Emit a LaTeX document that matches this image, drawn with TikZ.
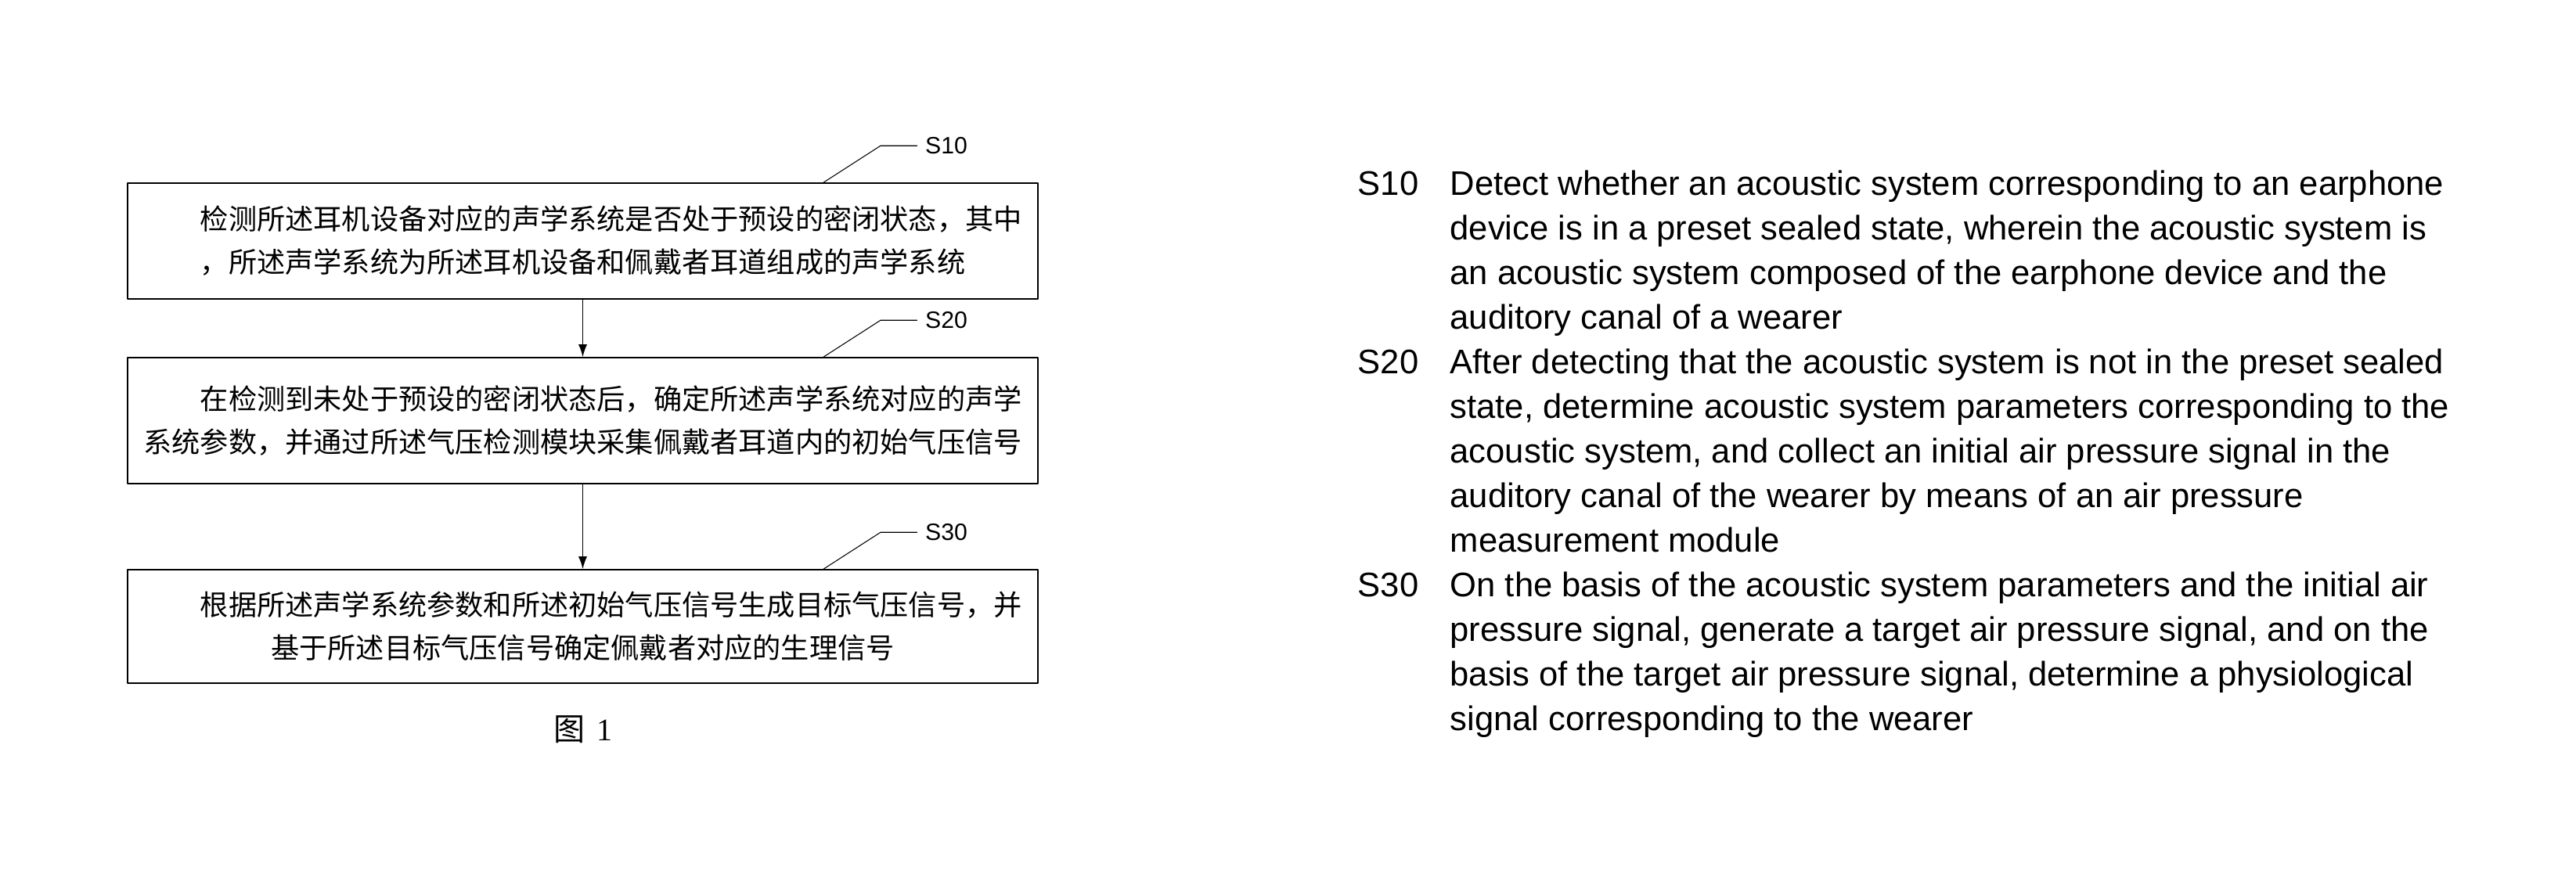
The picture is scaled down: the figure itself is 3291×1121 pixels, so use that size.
\documentclass[tikz,border=0pt]{standalone}
\usepackage{fontspec}
\setmainfont{Liberation Sans}
\newfontfamily\cjk{Noto Sans CJK SC}
\newfontfamily\serifnum{Liberation Serif}
\usetikzlibrary{arrows.meta}

\tikzset{
  stepbox/.style={draw, line width=0.45pt, minimum width=116.3mm, inner sep=1mm, align=center,
    font=\cjk\fontsize{10.3pt}{15.65pt}\selectfont},
  steptag/.style={inner xsep=1mm, inner ysep=0pt, font=\fontsize{8.6pt}{10pt}\selectfont},
  flow/.style={-{Latex[length=4.6pt,width=3.2pt]}, line width=0.45pt},
  lead/.style={line width=0.3pt},
  entext/.style={anchor=base west, inner sep=0pt, font=\fontsize{12.4pt}{16.2pt}\selectfont}
}

\begin{document}
\begin{tikzpicture}[line cap=round, line join=round, x=0.1mm, y=-0.1mm]
  \useasboundingbox (0,0) rectangle (3291,1121);

  % flow chart
  \node[stepbox, minimum height=14.8mm] (b1) at (744.5,308)
    {\hspace*{2em}检测所述耳机设备对应的声学系统是否处于预设的密闭状态，其中\\，所述声学系统为所述耳机设备和佩戴者耳道组成的声学系统};
  \node[stepbox, minimum height=16.1mm] (b2) at (744.5,537.5)
    {\hspace*{2em}在检测到未处于预设的密闭状态后，确定所述声学系统对应的声学\\系统参数，并通过所述气压检测模块采集佩戴者耳道内的初始气压信号};
  \node[stepbox, minimum height=14.5mm] (b3) at (744.5,800.5)
    {\hspace*{2em}根据所述声学系统参数和所述初始气压信号生成目标气压信号，并\\基于所述目标气压信号确定佩戴者对应的生理信号};
  \draw[flow] (b1) -- (b2);
  \draw[flow] (b2) -- (b3);

  \foreach \b/\s in {b1/S10, b2/S20, b3/S30} {
    \coordinate (\b k) at ([xshift=30.75mm]\b.north);
    \coordinate (\b m) at ([xshift=38.05mm, yshift=4.7mm]\b.north);
    \node[steptag, anchor=west] (\b t) at ([xshift=42.7mm, yshift=4.7mm]\b.north) {\s};
    \draw[lead] (\b k) -- (\b m) -- (\b t.west);
  }

  \node[font=\fontsize{11.4pt}{13pt}\selectfont] (fig) at (745,932)
    {{\cjk 图}\hspace{1.5mm}{\serifnum 1}};

  % english description
  \foreach \s/\y in {S10/249, S20/477, S30/762}
    \node[entext] (tag\s) at (1734,\y) {\s};
  \foreach \txt [count=\i from 0] in {
      {Detect whether an acoustic system corresponding to an earphone},
      {device is in a preset sealed state, wherein the acoustic system is},
      {an acoustic system composed of the earphone device and the},
      {auditory canal of a wearer},
      {After detecting that the acoustic system is not in the preset sealed},
      {state, determine acoustic system parameters corresponding to the},
      {acoustic system, and collect an initial air pressure signal in the},
      {auditory canal of the wearer by means of an air pressure},
      {measurement module},
      {On the basis of the acoustic system parameters and the initial air},
      {pressure signal, generate a target air pressure signal, and on the},
      {basis of the target air pressure signal, determine a physiological},
      {signal corresponding to the wearer}}
    \node[entext] (ln\i) at (1852,249+57*\i) {\txt};
\end{tikzpicture}
\end{document}
